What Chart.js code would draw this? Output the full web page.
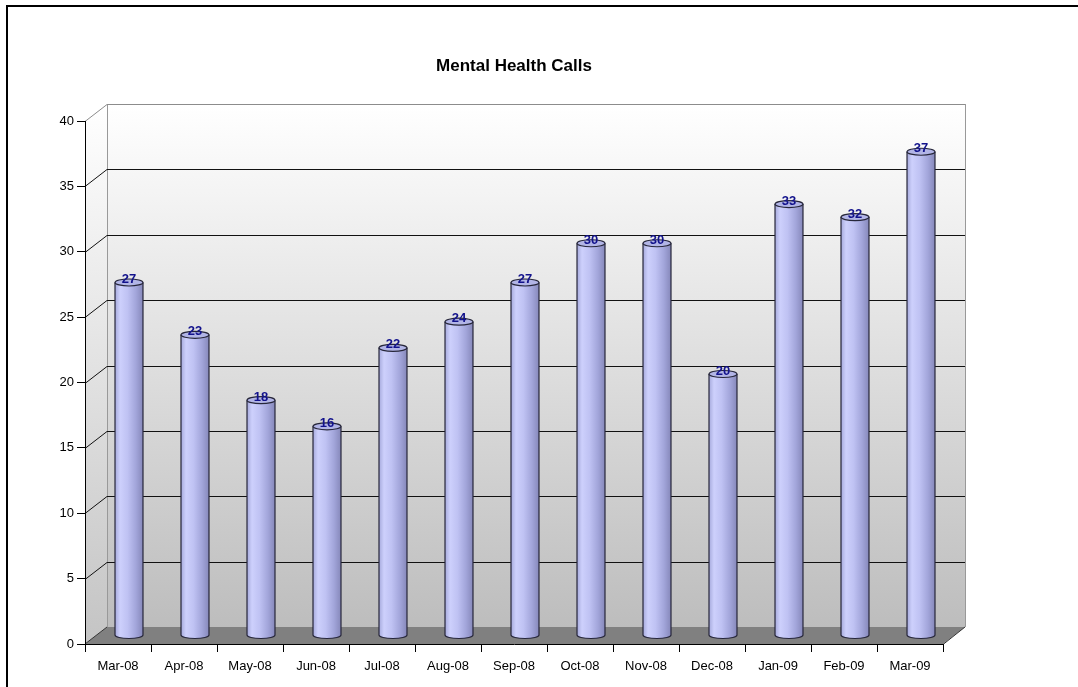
<!DOCTYPE html>
<html>
<head>
<meta charset="utf-8">
<script src="https://cdn.jsdelivr.net/npm/chart.js@4/dist/chart.umd.min.js"></script>
<style>
  html, body { margin: 0; padding: 0; background: #fff; }
  #wrap { width: 1078px; height: 687px; }
</style>
</head>
<body>
<div id="wrap"><canvas id="c" width="1078" height="687"></canvas></div>
<script>
const chartTitle = 'Mental Health Calls';
const categories = ['Mar-08','Apr-08','May-08','Jun-08','Jul-08','Aug-08','Sep-08','Oct-08','Nov-08','Dec-08','Jan-09','Feb-09','Mar-09'];
const calls = [27, 23, 18, 16, 22, 24, 27, 30, 30, 20, 33, 32, 37];
const yMin = 0, yMax = 40, yStep = 5;

const FONT = 'Liberation Sans, Arial, sans-serif';
const DX = 22, DY = 17; // 3D depth offset

const threeD = {
  id: 'threeD',
  beforeDraw(chart) {
    const ctx = chart.ctx;
    const xs = chart.scales.x, ys = chart.scales.y;
    const L = xs.left, R = xs.right;
    const T = ys.getPixelForValue(yMax), B = ys.getPixelForValue(yMin);
    ctx.save();
    ctx.fillStyle = '#fff';
    ctx.fillRect(0, 0, chart.width, chart.height);
    // frame
    ctx.fillStyle = '#000';
    ctx.fillRect(6, 5, chart.width - 6, 2);
    ctx.fillRect(6, 5, 2, chart.height - 5);

    // back wall
    let g = ctx.createLinearGradient(0, T - DY, 0, B - DY);
    g.addColorStop(0, '#ffffff');
    g.addColorStop(1, '#bdbdbd');
    ctx.fillStyle = g;
    ctx.fillRect(L + DX, T - DY, R - L, B - T);
    // side wall
    g = ctx.createLinearGradient(0, T - DY, 0, B);
    g.addColorStop(0, '#ffffff');
    g.addColorStop(1, '#c4c4c4');
    ctx.fillStyle = g;
    ctx.beginPath();
    ctx.moveTo(L, B); ctx.lineTo(L, T); ctx.lineTo(L + DX, T - DY); ctx.lineTo(L + DX, B - DY);
    ctx.closePath(); ctx.fill();

    // floor
    ctx.fillStyle = '#808080';
    ctx.beginPath();
    ctx.moveTo(L, B); ctx.lineTo(R, B); ctx.lineTo(R + DX, B - DY); ctx.lineTo(L + DX, B - DY);
    ctx.closePath(); ctx.fill();

    ctx.lineWidth = 1;
    // wall edges
    ctx.strokeStyle = '#999';
    ctx.beginPath();
    ctx.moveTo(L + DX + 0.5, B - DY); ctx.lineTo(L + DX + 0.5, T - DY);
    ctx.moveTo(R + DX + 0.5, B - DY); ctx.lineTo(R + DX + 0.5, T - DY);
    ctx.stroke();

    // gridlines
    for (let v = yMin + yStep; v <= yMax; v += yStep) {
      const yf = Math.round(ys.getPixelForValue(v)) + 0.5;
      const yb = yf - DY;
      ctx.strokeStyle = v === yMax ? '#8c8c8c' : '#111';
      ctx.beginPath();
      ctx.moveTo(L, yf); ctx.lineTo(L + DX, yb); ctx.lineTo(R + DX, yb);
      ctx.stroke();
    }
    // floor edges
    ctx.strokeStyle = '#333';
    ctx.beginPath();
    ctx.moveTo(L, B); ctx.lineTo(L + DX, B - DY);
    ctx.moveTo(R, B + 0.5); ctx.lineTo(R + DX, B - DY);
    ctx.stroke();
    ctx.restore();
  },
  afterDatasetsDraw(chart) {
    const ctx = chart.ctx;
    const meta = chart.getDatasetMeta(0);
    const data = chart.data.datasets[0].data;
    ctx.save();
    meta.data.forEach((el, i) => {
      const cx = el.x + DX / 2;
      const top = el.y - DY / 2;
      const bot = el.base - DY / 2;
      const rx = el.width / 2, ry = 3.5;
      const g = ctx.createLinearGradient(cx - rx, 0, cx + rx, 0);
      g.addColorStop(0, '#a6aadc');
      g.addColorStop(0.18, '#cdd0fc');
      g.addColorStop(0.45, '#bfc2f3');
      g.addColorStop(0.75, '#a2a5da');
      g.addColorStop(1, '#8688ba');
      ctx.fillStyle = g;
      ctx.beginPath();
      ctx.moveTo(cx - rx, top);
      ctx.lineTo(cx - rx, bot);
      ctx.ellipse(cx, bot, rx, ry, 0, Math.PI, 0, true);
      ctx.lineTo(cx + rx, top);
      ctx.ellipse(cx, top, rx, ry, 0, 0, Math.PI, false);
      ctx.closePath();
      ctx.fill();
      ctx.strokeStyle = '#26263a';
      ctx.lineWidth = 1.2;
      ctx.beginPath();
      ctx.moveTo(cx - rx, top);
      ctx.lineTo(cx - rx, bot);
      ctx.ellipse(cx, bot, rx, ry, 0, Math.PI, 0, true);
      ctx.lineTo(cx + rx, top);
      ctx.stroke();
      // top cap
      ctx.fillStyle = '#b2b5e6';
      ctx.beginPath();
      ctx.ellipse(cx, top, rx, ry, 0, 0, Math.PI * 2);
      ctx.fill();
      ctx.stroke();
      // value label
      ctx.fillStyle = '#12128c';
      ctx.font = 'bold 13px ' + FONT;
      ctx.textAlign = 'center';
      ctx.textBaseline = 'middle';
      ctx.fillText(String(data[i]), cx, top - 3);
    });
    ctx.restore();
  }
};

new Chart(document.getElementById('c'), {
  type: 'bar',
  data: {
    labels: categories,
    datasets: [{
      label: chartTitle,
      data: calls,
      backgroundColor: 'rgba(0,0,0,0)',
      borderWidth: 0,
      categoryPercentage: 1,
      barPercentage: 0.424
    }]
  },
  options: {
    responsive: false,
    animation: false,
    devicePixelRatio: 1,
    layout: { padding: { left: 0, right: 135, top: 0, bottom: 0 } },
    plugins: {
      legend: { display: false },
      tooltip: { enabled: false },
      title: {
        display: true,
        fullSize: false,
        text: chartTitle,
        color: '#000',
        font: { family: FONT, size: 17, weight: 'bold', lineHeight: 1.2 },
        padding: { top: 55.8, bottom: 44.8 }
      }
    },
    scales: {
      x: {
        type: 'category',
        offset: true,
        grid: { offset: true, drawOnChartArea: false, drawTicks: true, tickLength: 8, color: '#000' },
        border: { display: true, color: '#000' },
        ticks: { color: '#000', font: { family: FONT, size: 13 }, maxRotation: 0, autoSkip: false, padding: 7 },
        afterFit(s) { s.height = 43; }
      },
      y: {
        min: yMin, max: yMax,
        grid: { drawOnChartArea: false, drawTicks: true, tickLength: 8, color: '#000' },
        border: { display: true, color: '#000' },
        ticks: { stepSize: yStep, color: '#000', font: { family: FONT, size: 13 }, padding: 3 },
        afterFit(s) { s.width = 85; }
      }
    }
  },
  plugins: [threeD]
});
</script>
</body>
</html>
